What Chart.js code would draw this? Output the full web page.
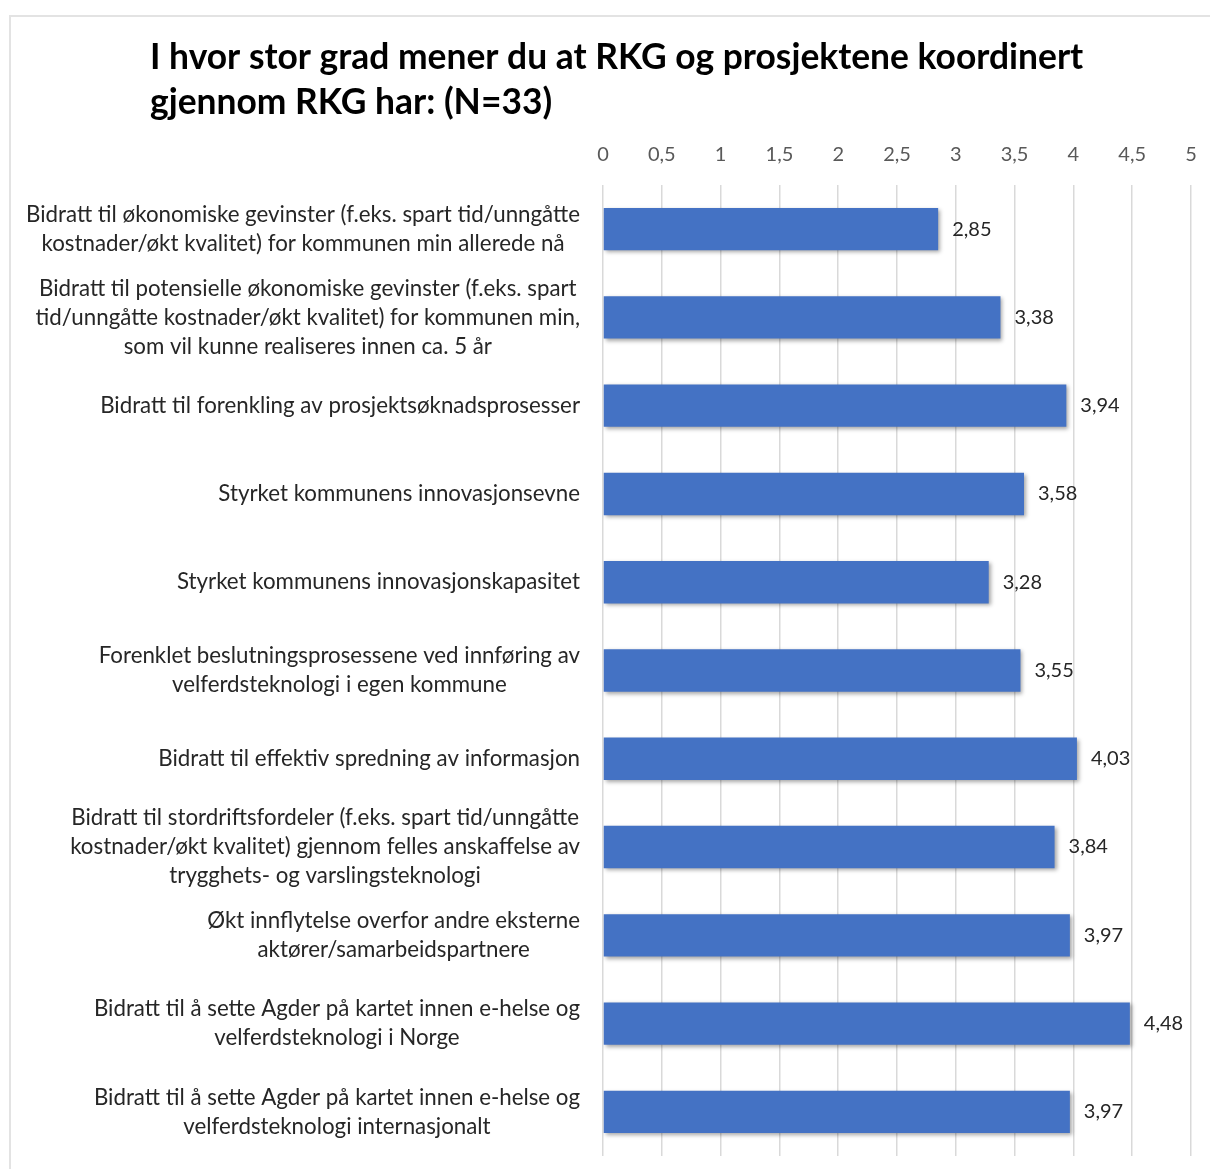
<!DOCTYPE html>
<html>
<head>
<meta charset="utf-8">
<script src="https://cdn.jsdelivr.net/npm/chart.js@4.4.0/dist/chart.umd.min.js"></script>
<style>
  html, body { margin: 0; padding: 0; background: #fff; overflow: hidden; }
  #frame { position: absolute; left: 9px; top: 15px; width: 1300px; height: 1300px;
           border-top: 2px solid #e3e3e3; border-left: 2px solid #e3e3e3; }
  #chart { position: absolute; left: 0; top: 0; }
</style>
</head>
<body>
<div id="frame"></div>
<canvas id="chart" width="1210" height="1169"></canvas>
<script>
const titleLines = [
  "I hvor stor grad mener du at RKG og prosjektene koordinert",
  "gjennom RKG har: (N=33)"
];

const categories = [
  ["Bidratt til økonomiske gevinster (f.eks. spart tid/unngåtte", "kostnader/økt kvalitet) for kommunen min allerede nå"],
  ["Bidratt til potensielle økonomiske gevinster (f.eks. spart", "tid/unngåtte kostnader/økt kvalitet) for kommunen min,", "som vil kunne realiseres innen ca. 5 år"],
  ["Bidratt til forenkling av prosjektsøknadsprosesser"],
  ["Styrket kommunens innovasjonsevne"],
  ["Styrket kommunens innovasjonskapasitet"],
  ["Forenklet beslutningsprosessene ved innføring av", "velferdsteknologi i egen kommune"],
  ["Bidratt til effektiv spredning av informasjon"],
  ["Bidratt til stordriftsfordeler (f.eks. spart tid/unngåtte", "kostnader/økt kvalitet) gjennom felles anskaffelse av", "trygghets- og varslingsteknologi"],
  ["Økt innflytelse overfor andre eksterne", "aktører/samarbeidspartnere"],
  ["Bidratt til å sette Agder på kartet innen e-helse og", "velferdsteknologi i Norge"],
  ["Bidratt til å sette Agder på kartet innen e-helse og", "velferdsteknologi internasjonalt"]
];

const scores = [2.85, 3.38, 3.94, 3.58, 3.28, 3.55, 4.03, 3.84, 3.97, 4.48, 3.97];

const FONT = "Lato, 'Open Sans', sans-serif";
const fmt = v => String(v).replace('.', ',');

// title, left aligned at a fixed indent like the original
const titlePlugin = {
  id: 'leftTitle',
  afterDraw(chart) {
    const ctx = chart.ctx;
    ctx.save();
    ctx.font = "bold 35.4px " + FONT;
    ctx.fillStyle = '#000';
    ctx.textAlign = 'left';
    ctx.textBaseline = 'middle';
    titleLines.forEach((t, i) => ctx.fillText(t, 150, 58 + i * 45));
    ctx.restore();
  }
};

// category labels: block right aligned, lines centred inside the block
const catLabels = {
  id: 'catLabels',
  afterDraw(chart) {
    const ctx = chart.ctx, y = chart.scales.y;
    ctx.save();
    ctx.font = "22.3px " + FONT;
    ctx.fillStyle = '#262626';
    ctx.textAlign = 'center';
    ctx.textBaseline = 'middle';
    const lh = 29;
    categories.forEach((lines, i) => {
      const w = Math.max(...lines.map(l => ctx.measureText(l).width));
      const cx = chart.chartArea.left - 23 - w / 2;
      const cy = y.getPixelForTick(i);
      lines.forEach((l, j) => ctx.fillText(l, cx, cy + (j - (lines.length - 1) / 2) * lh));
    });
    ctx.restore();
  }
};

// value labels at the end of each bar + soft shadow under bars
const valueLabels = {
  id: 'valueLabels',
  beforeDatasetDraw(chart) {
    const ctx = chart.ctx;
    ctx.save();
    ctx.shadowColor = 'rgba(0,0,0,0.35)';
    ctx.shadowBlur = 4;
    ctx.shadowOffsetX = 2;
    ctx.shadowOffsetY = 2;
  },
  afterDatasetDraw(chart) {
    chart.ctx.restore();
  },
  afterDatasetsDraw(chart) {
    const ctx = chart.ctx;
    ctx.save();
    ctx.font = "20px " + FONT;
    ctx.fillStyle = '#262626';
    ctx.textAlign = 'left';
    ctx.textBaseline = 'middle';
    chart.getDatasetMeta(0).data.forEach((bar, i) => {
      ctx.fillText(fmt(scores[i]), bar.x + 14, bar.y);
    });
    ctx.restore();
  }
};

new Chart(document.getElementById('chart'), {
  type: 'bar',
  data: {
    labels: categories,
    datasets: [{
      data: scores,
      backgroundColor: '#4472C4',
      borderWidth: 0,
      categoryPercentage: 1,
      barPercentage: 0.48
    }]
  },
  options: {
    indexAxis: 'y',
    responsive: false,
    animation: false,
    layout: { padding: { top: 125, left: 603, right: 19, bottom: 13 } },
    plugins: { legend: { display: false }, tooltip: { enabled: false } },
    scales: {
      x: {
        position: 'top',
        min: 0, max: 5,
        afterFit(scale) { scale.paddingLeft = 0; scale.paddingRight = 0; },
        ticks: {
          stepSize: 0.5,
          padding: 18,
          color: '#595959',
          font: { family: FONT, size: 20 },
          callback: v => fmt(v)
        },
        grid: { color: '#d9d9d9', lineWidth: 1.5, drawTicks: false },
        border: { display: false }
      },
      y: { display: false }
    }
  },
  plugins: [titlePlugin, catLabels, valueLabels]
});
</script>
</body>
</html>
